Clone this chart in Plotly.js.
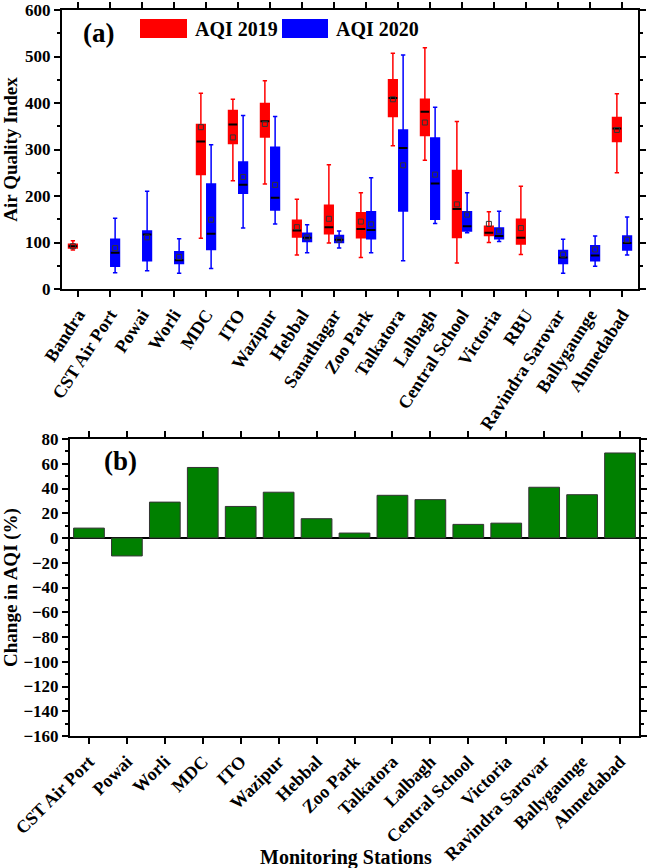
<!DOCTYPE html>
<html>
<head>
<meta charset="utf-8">
<script src="https://cdn.plot.ly/plotly-3.0.1.min.js"></script>
<style>html,body{margin:0;padding:0;background:#fff;}#chart{width:649px;height:868px;}</style>
</head>
<body>
<div id="chart"></div>
<script>
// ---------- Data ----------
const stations = ["Bandra","CST Air Port","Powai","Worli","MDC","ITO","Wazipur","Hebbal","Sanathagar","Zoo Park","Talkatora","Lalbagh","Central School","Victoria","RBU","Ravindra Sarovar","Ballygaunge","Ahmedabad"];

// AQI 2019 box statistics (null = no data)
const min2019  = [84, null, null, null, 109, 233, 226, 73, 99, 68, 308, 277, 56, 100, 74, null, null, 250];
const q1_2019  = [88, null, null, null, 246, 313, 327, 112, 119, 110, 371, 330, 111, 115, 97, null, null, 317];
const med2019  = [92, null, null, null, 317, 354, 361, 126, 133, 129, 411, 381, 172, 121, 110, null, null, 345];
const q3_2019  = [96, null, null, null, 354, 384, 399, 148, 180, 164, 450, 408, 255, 135, 150, null, null, 369];
const max2019  = [104, null, null, null, 421, 408, 448, 193, 267, 207, 507, 519, 360, 166, 221, null, null, 420];
const mean2019 = [92, null, null, null, 348, 326, 355, 133, 151, 145, 408, 358, 182, 140, 131, null, null, 342];

// AQI 2020 box statistics
const min2020  = [null, 35, 39, 34, 44, 131, 140, 78, 88, 78, 61, 141, 121, 102, null, 34, 49, 73];
const q1_2020  = [null, 49, 61, 55, 85, 206, 170, 102, 100, 108, 168, 150, 125, 108, null, 55, 61, 84];
const med2020  = [null, 78, 117, 62, 119, 224, 196, 110, 106, 127, 303, 227, 135, 114, null, 68, 72, 99];
const q3_2020  = [null, 107, 125, 80, 226, 273, 305, 120, 115, 166, 342, 325, 166, 131, null, 83, 93, 114];
const max2020  = [null, 152, 210, 108, 310, 373, 371, 138, 125, 239, 503, 391, 207, 167, null, 107, 114, 155];
const mean2020 = [null, 88, 111, 69, 149, 241, 224, 111, 106, 139, 266, 246, 160, 124, null, 74, 85, 106];

// Panel (b): change in AQI (%)
const changeStations = ["CST Air Port","Powai","Worli","MDC","ITO","Wazipur","Hebbal","Zoo Park","Talkatora","Lalbagh","Central School","Victoria","Ravindra Sarovar","Ballygaunge","Ahmedabad"];
const changePct = [8, -14.5, 29, 57, 25.5, 37, 15.6, 4, 34.5, 31, 11, 12, 41, 35, 68.7];

const legendLabels = ["AQI 2019", "AQI 2020"];
const yTicksA = [0, 100, 200, 300, 400, 500, 600];
const yTicksB = [-160, -140, -120, -100, -80, -60, -40, -20, 0, 20, 40, 60, 80];

// ---------- helpers ----------
function pick(arr, idx) { return idx.map(i => arr[i]); }
function present(arr) { return arr.map((v, i) => v === null ? -1 : i).filter(i => i >= 0); }

const W = 649, H = 868;
const px = x => x / W;
const py = y => 1 - y / H;

const FONT = "Liberation Serif, Times New Roman, serif";
const RED = "#ff0000", BLUE = "#0000ff";

const idx19 = present(med2019);
const idx20 = present(med2020);

function boxTrace(idx, mn, q1, md, q3, mx, color, group) {
  return {
    type: "box", xaxis: "x", yaxis: "y",
    x: pick(stations, idx),
    lowerfence: pick(mn, idx), q1: pick(q1, idx), median: pick(md, idx),
    q3: pick(q3, idx), upperfence: pick(mx, idx),
    fillcolor: color, line: {color: color, width: 1.5},
    whiskerwidth: 0.5, boxpoints: false, offsetgroup: group,
    hoverinfo: "skip", showlegend: false
  };
}
function medianTrace(idx, md, group) {
  const m = pick(md, idx);
  return {
    type: "box", xaxis: "x", yaxis: "y",
    x: pick(stations, idx),
    lowerfence: m, q1: m, median: m, q3: m, upperfence: m,
    fillcolor: "black", line: {color: "black", width: 2},
    whiskerwidth: 0, boxpoints: false, offsetgroup: group,
    hoverinfo: "skip", showlegend: false
  };
}
function meanTrace(idx, mean, group) {
  return {
    type: "scatter", mode: "markers", xaxis: "x", yaxis: "y",
    x: pick(stations, idx), y: pick(mean, idx), offsetgroup: group,
    marker: {symbol: "square-open", size: 5, color: "#333", line: {width: 1, color: "#333"}},
    hoverinfo: "skip", showlegend: false
  };
}

const data = [
  boxTrace(idx19, min2019, q1_2019, med2019, q3_2019, max2019, RED, "a"),
  boxTrace(idx20, min2020, q1_2020, med2020, q3_2020, max2020, BLUE, "b"),
  medianTrace(idx19, med2019, "a"),
  medianTrace(idx20, med2020, "b"),
  meanTrace(idx19, mean2019, "a"),
  meanTrace(idx20, mean2020, "b"),
  {
    type: "bar", xaxis: "x2", yaxis: "y2",
    x: changeStations, y: changePct,
    marker: {color: "#008000", line: {color: "#333333", width: 1}},
    hoverinfo: "skip", showlegend: false
  }
];

const tickFont = {family: FONT, size: 18, color: "black", weight: "bold"};
const yTickFont = {family: FONT, size: 17, color: "black", weight: "bold"};
const titleFont = {family: FONT, size: 19, color: "black", weight: "bold"};
const axisCommon = {
  showline: true, linewidth: 2, linecolor: "black", mirror: "ticks",
  ticks: "outside", ticklen: 6, tickwidth: 2, tickcolor: "black",
  showgrid: false, zeroline: false, automargin: false, tickfont: tickFont,
  ticklabeloverflow: "allow"
};

const layout = {
  width: W, height: H,
  margin: {l: 0, r: 0, t: 0, b: 0},
  paper_bgcolor: "white", plot_bgcolor: "white",
  font: {family: FONT, color: "black"},
  showlegend: false,
  boxmode: "group", boxgap: 0.36, boxgroupgap: 0.15,
  scattermode: "group", scattergap: 0.36,
  bargap: 0.19,
  xaxis: Object.assign({}, axisCommon, {
    domain: [px(62), px(638)], anchor: "y",
    type: "category", categoryorder: "array", categoryarray: stations,
    range: [-0.5, stations.length - 0.5], tickangle: -57
  }),
  yaxis: Object.assign({}, axisCommon, {
    domain: [py(289), py(10)], anchor: "x",
    range: [0, 600], tickmode: "array", tickvals: yTicksA, tickfont: yTickFont,
    minor: {dtick: 50, tick0: 0, ticks: "outside", ticklen: 3, tickwidth: 2, tickcolor: "black"},
    title: {text: "Air Quality Index", font: titleFont, standoff: 6}
  }),
  xaxis2: Object.assign({}, axisCommon, {
    domain: [px(70), px(639)], anchor: "y2",
    type: "category", categoryorder: "array", categoryarray: changeStations,
    range: [-0.5, changeStations.length - 0.5], tickangle: -45
  }),
  yaxis2: Object.assign({}, axisCommon, {
    domain: [py(736), py(439)], anchor: "x2",
    range: [-160, 80], tickmode: "array", tickvals: yTicksB, tickfont: yTickFont,
    zeroline: true, zerolinecolor: "black", zerolinewidth: 2.5,
    minor: {dtick: 10, tick0: 0, ticks: "outside", ticklen: 3, tickwidth: 2, tickcolor: "black"},
    title: {text: "Change in AQI (%)", font: titleFont, standoff: 6}
  }),
  shapes: [
    {type: "rect", xref: "paper", yref: "paper", x0: px(140), x1: px(187), y0: py(38), y1: py(19), fillcolor: RED, line: {width: 0}},
    {type: "rect", xref: "paper", yref: "paper", x0: px(282), x1: px(328), y0: py(38), y1: py(19), fillcolor: BLUE, line: {width: 0}}
  ],
  annotations: [
    {xref: "paper", yref: "paper", x: px(193), y: py(29), xanchor: "left", yanchor: "middle", showarrow: false, text: legendLabels[0], font: {family: FONT, size: 20, color: "black", weight: "bold"}},
    {xref: "paper", yref: "paper", x: px(334), y: py(29), xanchor: "left", yanchor: "middle", showarrow: false, text: legendLabels[1], font: {family: FONT, size: 20, color: "black", weight: "bold"}},
    {xref: "paper", yref: "paper", x: px(98), y: py(33), xanchor: "center", yanchor: "middle", showarrow: false, text: "(a)", font: {family: FONT, size: 27, color: "black", weight: "bold"}},
    {xref: "paper", yref: "paper", x: px(120), y: py(461), xanchor: "center", yanchor: "middle", showarrow: false, text: "(b)", font: {family: FONT, size: 27, color: "black", weight: "bold"}},
    {xref: "paper", yref: "paper", x: px(346), y: py(857), xanchor: "center", yanchor: "middle", showarrow: false, text: "Monitoring Stations", font: {family: FONT, size: 20, color: "black", weight: "bold"}}
  ]
};

Plotly.newPlot("chart", data, layout, {staticPlot: true, displayModeBar: false});
</script>
</body>
</html>
